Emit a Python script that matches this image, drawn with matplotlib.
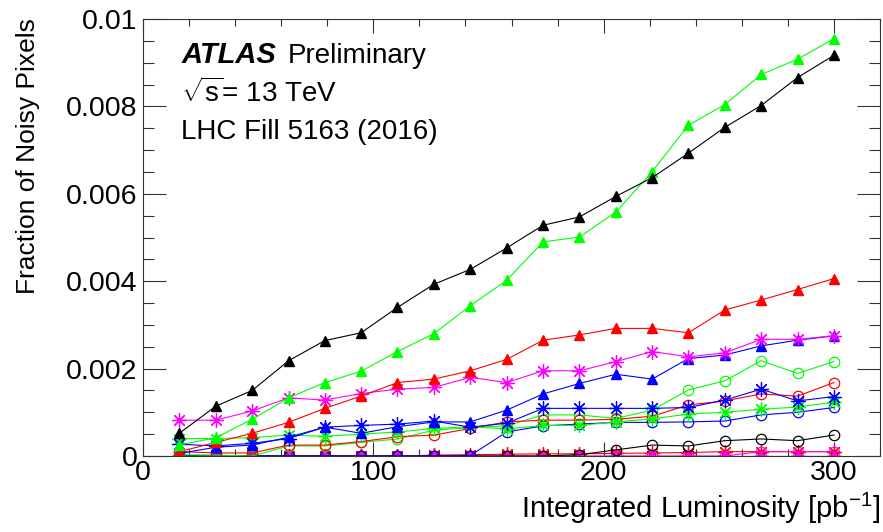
import matplotlib
matplotlib.use("Agg")
import matplotlib.pyplot as plt
from matplotlib.ticker import MultipleLocator

plt.rcParams['font.family'] = ['Liberation Sans', 'DejaVu Sans']
plt.rcParams['mathtext.fontset'] = 'custom'
plt.rcParams['mathtext.rm'] = 'Liberation Sans'
plt.rcParams['mathtext.it'] = 'Liberation Sans:italic'

# integrated luminosity per point [pb^-1]
lumi = [15.8, 31.6, 47.4, 63.2, 78.9, 94.7, 110.5, 126.3, 142.1, 157.9,
        173.7, 189.5, 205.3, 221.1, 236.8, 252.6, 268.4, 284.2, 300.0]

# triangles
black_tri = [0.00052, 0.00114, 0.0015, 0.00218, 0.00264, 0.00282, 0.0034, 0.00393, 0.00427, 0.00476,
             0.00528, 0.00547, 0.00594, 0.00637, 0.00693, 0.00752, 0.00802, 0.00866, 0.00917]
green_tri = [0.00025, 0.00042, 0.00084, 0.00133, 0.00168, 0.00194, 0.00239, 0.0028, 0.00344, 0.00402,
             0.0049, 0.00501, 0.00558, 0.00651, 0.00757, 0.00804, 0.00873, 0.00908, 0.00955]
red_tri = [0.0001, 0.00031, 0.00052, 0.00077, 0.00109, 0.00137, 0.00168, 0.00176, 0.00195, 0.00221,
           0.00265, 0.00277, 0.00292, 0.00292, 0.00282, 0.00334, 0.00357, 0.00381, 0.00406]
blue_tri = [0.00006, 0.0002, 0.00025, 0.00043, 0.00066, 0.00052, 0.00067, 0.00078, 0.00078, 0.00105,
            0.00142, 0.00166, 0.00187, 0.00176, 0.00223, 0.00231, 0.00252, 0.00265, 0.00275]
magenta_tri = [0.0] * 19

# open circles
black_circ = [0.0, 0.0, 0.0, 0.0, 0.0, 0.0, 0.0, 0.0, 0.0, 0.0,
              0.0, 0.00003, 0.00014, 0.00025, 0.00023, 0.00035, 0.00039, 0.00035, 0.00048]
green_circ = [0.00003, 0.00002, 0.0, 0.00023, 0.00023, 0.00031, 0.00039, 0.00059, 0.00065, 0.00069,
              0.00094, 0.00094, 0.00086, 0.00105, 0.00151, 0.00172, 0.00218, 0.00189, 0.00216]
red_circ = [0.0001, 0.00007, 0.00007, 0.00025, 0.00025, 0.00033, 0.00044, 0.00048, 0.00063, 0.00078,
            0.00082, 0.00082, 0.00084, 0.00091, 0.00117, 0.00126, 0.00142, 0.00137, 0.00168]
blue_circ = [0.00001, 0.0, 0.0, 0.0, 0.0, 0.0, 0.0, 0.0, 0.00001, 0.00055,
             0.00069, 0.00073, 0.00077, 0.00077, 0.00078, 0.0008, 0.00094, 0.001, 0.00111]
magenta_circ = [0.0, 0.0, 0.0, 0.0, 0.0, 0.0, 0.0, 0.0, 0.0, 0.0,
                0.0, 0.0, 0.0, 0.0, 0.0, 0.0, 0.0001, 0.0001, 0.0001]

# asterisks
black_star = [0.0] * 19
green_star = [0.0004, 0.0004, 0.00042, 0.00048, 0.00045, 0.0005, 0.00055, 0.00063, 0.00067, 0.00062,
              0.0007, 0.0007, 0.00078, 0.00085, 0.00096, 0.001, 0.00107, 0.00112, 0.00123]
red_star = [0.0, 0.0, 0.0, 0.0, 0.0, 0.0, 0.0, 0.00002, 0.00003, 0.00004,
            0.00005, 0.00005, 0.00006, 0.00007, 0.00008, 0.0001, 0.0001, 0.0001, 0.0001]
blue_star = [0.00027, 0.00023, 0.00029, 0.0004, 0.00066, 0.0007, 0.00073, 0.0008, 0.00066, 0.00075,
             0.00109, 0.00109, 0.00109, 0.00109, 0.00111, 0.00128, 0.00153, 0.00126, 0.00136]
magenta_star = [0.00082, 0.00082, 0.00103, 0.00133, 0.00128, 0.00143, 0.00153, 0.00157, 0.0018, 0.00168,
                0.00195, 0.00195, 0.00216, 0.00239, 0.00227, 0.00236, 0.00267, 0.00267, 0.00275]

GREEN = '#00ff00'
BLUE = '#0000ff'
RED = '#ff0000'
MAGENTA = '#ff00ff'
ASTER = (8, 2, 0)

series = [
    (black_star, 'black', ASTER), (red_star, RED, ASTER), (magenta_tri, MAGENTA, '^'),
    (magenta_circ, MAGENTA, 'o'), (black_circ, 'black', 'o'), (blue_circ, BLUE, 'o'),
    (green_circ, GREEN, 'o'), (red_circ, RED, 'o'), (green_star, GREEN, ASTER),
    (blue_star, BLUE, ASTER), (blue_tri, BLUE, '^'), (magenta_star, MAGENTA, ASTER),
    (red_tri, RED, '^'), (green_tri, GREEN, '^'), (black_tri, 'black', '^'),
]

fig = plt.figure(figsize=(8.83, 5.32), dpi=100)
ax = fig.add_axes([143 / 883, 1 - 456 / 532, (880 - 143) / 883, (456 - 19) / 532])

for vals, col, mk in series:
    if mk == 'o':
        ax.plot(lumi, vals, color=col, lw=0.8, marker='o', ms=7.5, mfc='none', mec=col, mew=0.9)
    elif mk == '^':
        ax.plot(lumi, vals, color=col, lw=0.8, marker='^', ms=6.5, mfc=col, mec=col)
    else:
        ax.plot(lumi, vals, color=col, lw=0.8, marker=mk, ms=10.5, mec=col, mew=0.9)

ax.set_xlim(0, 320)
ax.set_ylim(0, 0.01)
ax.xaxis.set_major_locator(MultipleLocator(100))
ax.xaxis.set_minor_locator(MultipleLocator(20))
ax.yaxis.set_major_locator(MultipleLocator(0.002))
ax.yaxis.set_minor_locator(MultipleLocator(0.0005))
ax.set_yticks([0, 0.002, 0.004, 0.006, 0.008, 0.01])
ax.set_yticklabels(['0', '0.002', '0.004', '0.006', '0.008', '0.01'])
ax.tick_params(axis='both', which='both', direction='in', top=True, right=True,
               labelsize=20.5, width=0.8, color='#333333')
ax.tick_params(axis='y', which='major', length=16.5, pad=4)
ax.tick_params(axis='y', which='minor', length=8)
ax.tick_params(axis='x', which='major', length=10, pad=3)
ax.tick_params(axis='x', which='minor', length=5)
for s in ax.spines.values():
    s.set_linewidth(0.8)
    s.set_color('#333333')

ax.text(0.052, 0.899, 'ATLAS', transform=ax.transAxes, fontsize=21,
        fontweight='bold', fontstyle='italic', va='baseline')
ax.text(0.197, 0.899, 'Preliminary', transform=ax.transAxes, fontsize=20, va='baseline')
ax.text(0.052, 0.81, r'$\sqrt{\mathrm{s}}$= 13 TeV', transform=ax.transAxes, fontsize=20,
        va='baseline')
ax.text(0.052, 0.725, 'LHC Fill 5163 (2016)', transform=ax.transAxes, fontsize=20,
        va='baseline')

fig.text(28 / 883, 1 - 18 / 532, 'Fraction of Noisy Pixels', rotation=90,
         ha='center', va='top', fontsize=19)
fig.text(880 / 883, 6 / 532, r'Integrated Luminosity [pb$^{\mathregular{-1}}$]',
         ha='right', va='bottom', fontsize=21)

fig.savefig('out.png', dpi=100)
